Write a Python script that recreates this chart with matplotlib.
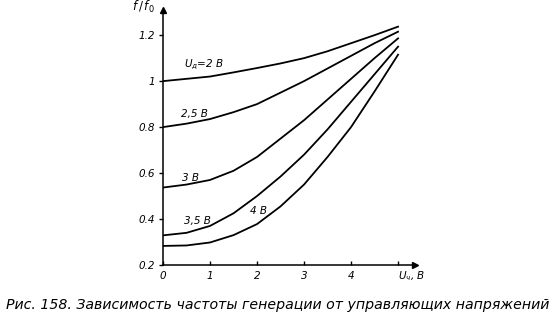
import matplotlib
matplotlib.use("Agg")
import matplotlib.pyplot as plt

# control voltage, V
u_ctrl = [0, 0.5, 1, 1.5, 2, 2.5, 3, 3.5, 4, 4.5, 5]

# f/f0 for each supply voltage
f_2v = [1.0, 1.01, 1.02, 1.038, 1.057, 1.077, 1.10, 1.13, 1.165, 1.20, 1.237]
f_25v = [0.80, 0.815, 0.835, 0.865, 0.90, 0.95, 1.0, 1.055, 1.11, 1.165, 1.215]
f_3v = [0.537, 0.55, 0.57, 0.61, 0.67, 0.75, 0.83, 0.92, 1.01, 1.10, 1.186]
f_35v = [0.329, 0.34, 0.37, 0.425, 0.50, 0.585, 0.68, 0.79, 0.91, 1.03, 1.15]
f_4v = [0.283, 0.285, 0.298, 0.33, 0.378, 0.455, 0.55, 0.67, 0.80, 0.955, 1.115]

y_ticks = [0.2, 0.4, 0.6, 0.8, 1.0, 1.2]
y_labels = ["0.2", "0.4", "0.6", "0.8", "1", "1.2"]
x_ticks = [0, 1, 2, 3, 4, 5]
x_labels = ["0", "1", "2", "3", "4", ""]

fig = plt.figure(figsize=(5.55, 3.25), dpi=100)
ax = fig.add_axes([0.2937, 0.1846, 0.454, 0.785])

for f in [f_2v, f_25v, f_3v, f_35v, f_4v]:
    ax.plot(u_ctrl, f, color="black", lw=1.3)

ax.set_xlim(0, 5.36)
ax.set_ylim(0.2, 1.31)
ax.spines["top"].set_visible(False)
ax.spines["right"].set_visible(False)
ax.spines["left"].set_linewidth(1.1)
ax.spines["bottom"].set_linewidth(1.1)

ax.set_yticks(y_ticks)
ax.set_yticklabels(y_labels, fontsize=7.5, style="italic")
ax.set_xticks(x_ticks)
ax.set_xticklabels(x_labels, fontsize=7.5, style="italic")
ax.tick_params(axis="y", direction="out", length=3, width=1, pad=3)
ax.tick_params(axis="x", direction="in", length=3, width=1, pad=4)

# axis arrows
ax.plot(1, 0, ">k", ms=4, transform=ax.transAxes, clip_on=False)
ax.plot(0, 1, "^k", ms=4, transform=ax.transAxes, clip_on=False)

# axis titles
ax.text(-0.035, 1.01, "$f\\,/\\,f_0$", transform=ax.transAxes, fontsize=8.5,
        ha="right", va="center")
ax.text(5.0, 0.18, "$U_ч$, В", fontsize=7.5, style="italic", ha="left", va="top")

# curve labels
lbl = dict(fontsize=7.5, style="italic", ha="left", va="bottom")
ax.text(0.45, 1.04, "$U_д$=2 В", **lbl)
ax.text(0.38, 0.835, "2,5 В", **lbl)
ax.text(0.40, 0.555, "3 В", **lbl)
ax.text(0.45, 0.37, "3,5 В", **lbl)
ax.text(1.85, 0.415, "4 В", **lbl)

fig.text(0.5, 0.062, "Рис. 158. Зависимость частоты генерации от управляющих напряжений",
         fontsize=10.2, style="italic", ha="center", va="center")

fig.savefig("out.png", dpi=100, facecolor="white")
